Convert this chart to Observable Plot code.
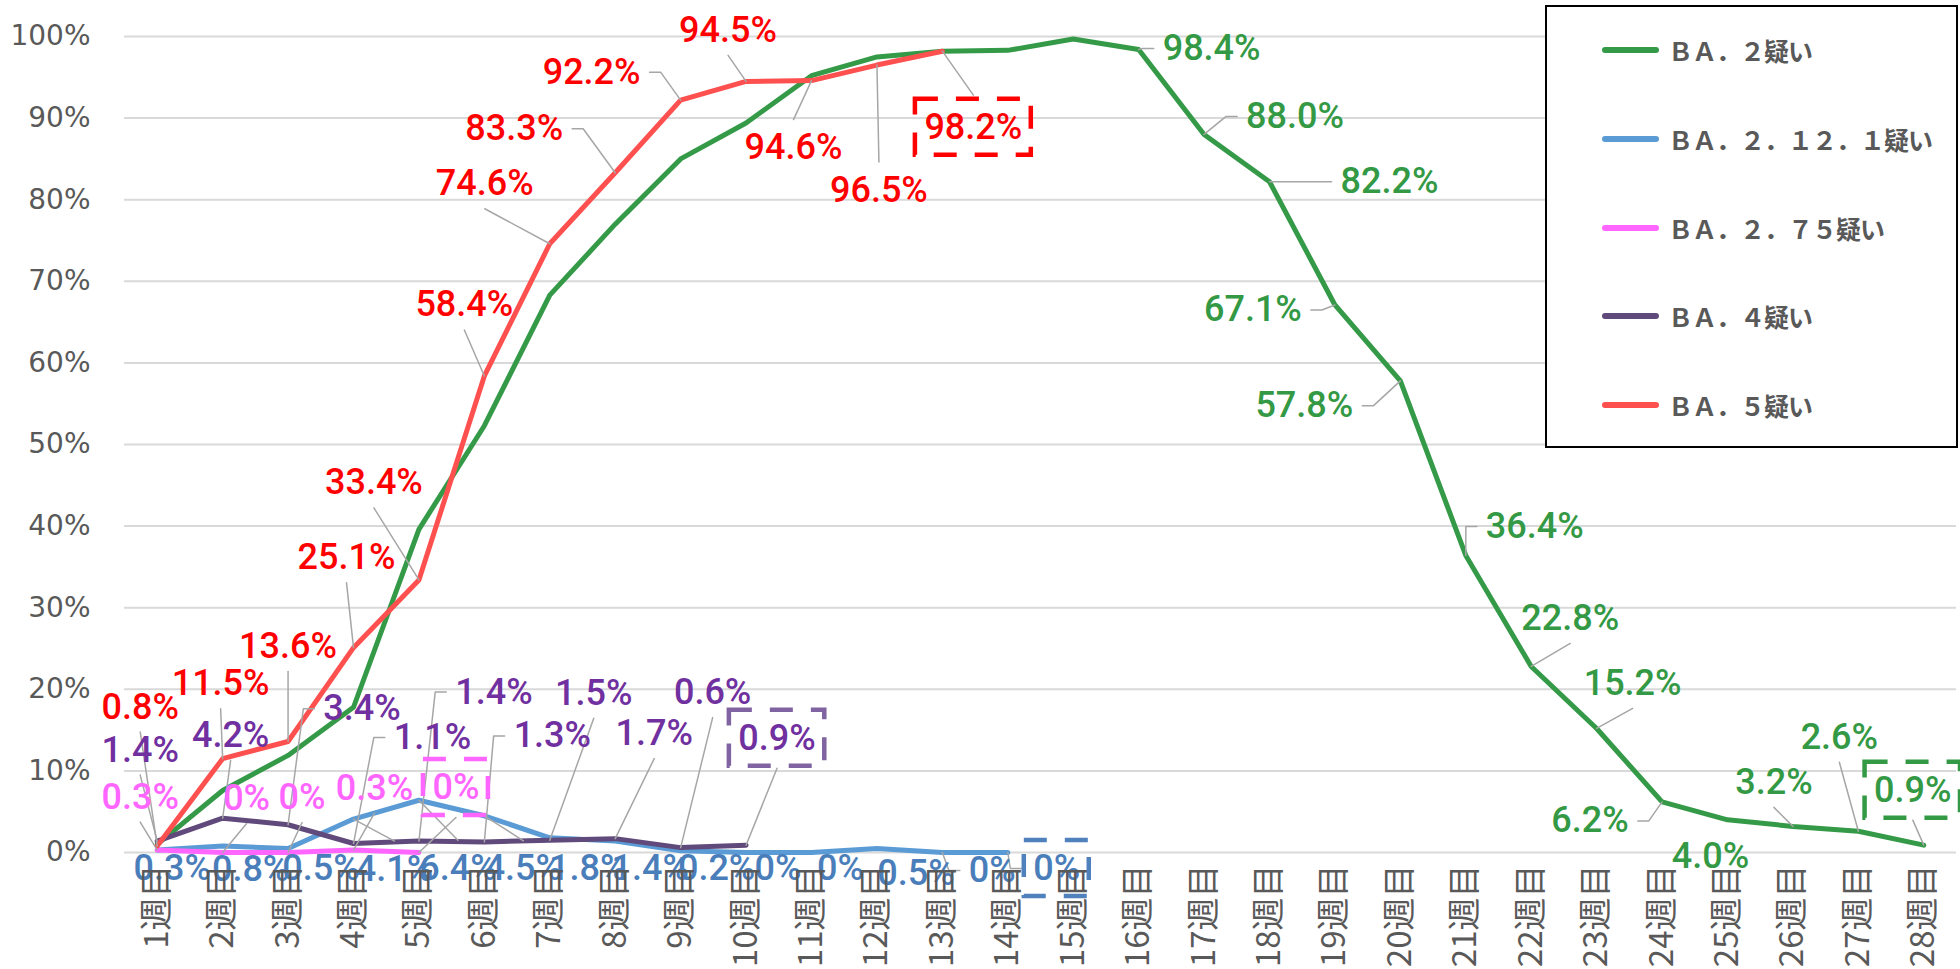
<!DOCTYPE html>
<html><head><meta charset="utf-8">
<script src="https://cdn.jsdelivr.net/npm/d3@7"></script>
<script src="https://cdn.jsdelivr.net/npm/@observablehq/plot@0.6"></script>
<style>
body{margin:0;background:#fff;}
#wrap{position:relative;width:1960px;height:969px;overflow:hidden;background:#fff;}
#legend{position:absolute;left:1545px;top:5px;width:409px;height:439px;border:2px solid #000;background:#fff;}
.item{position:absolute;left:0;height:0;}
.sw{position:absolute;left:55px;width:57px;height:6px;top:-3px;border-radius:3px;}
.lt{position:absolute;left:121px;top:-20px;line-height:40px;white-space:nowrap;font-family:"Noto Sans CJK JP",sans-serif;font-weight:700;font-size:25px;letter-spacing:-1px;color:#595959;}
</style></head><body><div id="wrap"></div>
<script>
// ---- data ----
const weeks = d3.range(1, 29);
const seriesNames = ["ＢＡ．２疑い","ＢＡ．２．１２．１疑い","ＢＡ．２．７５疑い","ＢＡ．４疑い","ＢＡ．５疑い"];
const ba2    = [1.0,7.6,11.9,17.8,39.6,52.3,68.3,77.0,85.0,89.4,95.2,97.5,98.2,98.3,99.7,98.4,88.0,82.2,67.1,57.8,36.4,22.8,15.2,6.2,4.0,3.2,2.6,0.9];
const ba2121 = [0.3,0.8,0.5,4.1,6.4,4.5,1.8,1.4,0.2,0,0,0.5,0,0];
const ba275  = [0.3,0,0,0.3,0];
const ba4    = [1.4,4.2,3.4,1.1,1.4,1.3,1.5,1.7,0.6,0.9];
const ba5    = [0.8,11.5,13.6,25.1,33.4,58.4,74.6,83.3,92.2,94.5,94.6,96.5,98.2];
const yTicks = d3.range(0, 101, 10);

// ---- label layout: [week, dx, dy, leader side, boxed] (pixel offsets from point) ----
const labelsBA2 = [[16,73,-1,"l"],[17,91,-18,"l"],[18,120,0,"l"],[19,-82,5,"r"],[20,-96,25,"r"],[21,69,-29,"l"],[22,39,-48,"b"],[23,36,-45,"b"],[24,-72,19,"r"],[25,-17,37,""],[26,-19,-44,"b"],[27,-19,-94,"b"],[28,-11,-55,"b",1]];
const labelsBA2121 = [[1,15,18,""],[2,28,23,""],[3,33,20,""],[4,41,50,"t"],[5,39,68,"t"],[6,39,53,"t"],[7,38,31,""],[8,35,27,""],[9,36,18,""],[10,32,16,""],[11,29,16,""],[12,39,25,""],[13,50,18,"l"],[14,49,16,"l",1]];
const labelsBA275 = [[1,-17,-53,"b"],[2,24,-54,"b"],[3,14,-55,"b"],[4,21,-62,"b"],[5,37,-65,"b",1]];
const labelsBA4 = [[1,-17,-91,"b"],[2,8,-83,"b"],[3,74,-116,"l"],[4,79,-106,"l"],[5,75,-149,"l"],[6,68,-106,"l"],[7,44,-147,"b"],[8,39,-105,"b"],[9,32,-155,"b"],[10,31,-107,"b",1]];
const labelsBA5 = [[1,-17,-139,"b"],[2,-2,-75,"b"],[3,0,-95,"b"],[4,-7,-90,"b"],[5,-45,-97,"b"],[6,-20,-71,"b"],[7,-65,-60,"b"],[8,-101,-44,"r"],[9,-89,-28,"r"],[10,-18,-51,"b"],[11,-18,67,"t"],[12,2,125,"t"],[13,31,76,"t",1]];

// ---- styles ----
const series = [
  {name: seriesNames[0], values: ba2,    line: "#359a48", text: "#339944", box: "#339944", labels: labelsBA2},
  {name: seriesNames[1], values: ba2121, line: "#5b9bd5", text: "#4a7ebb", box: "#4f81bd", labels: labelsBA2121},
  {name: seriesNames[2], values: ba275,  line: "#ff66ff", text: "#ff66ff", box: "#ff66ff", labels: labelsBA275},
  {name: seriesNames[3], values: ba4,    line: "#604a7b", text: "#7030a0", box: "#8064a2", labels: labelsBA4},
  {name: seriesNames[4], values: ba5,    line: "#ff5050", text: "#ff0000", box: "#ff0000", labels: labelsBA5}
];

const W = 1960, H = 969;
const mL = 124, mR = 4, mT = 36, mB = 117;
const LS = 36; // label font size
const xOpts = {type: "linear", domain: [0.5, 28.5], range: [mL, W - mR]};
const yOpts = {type: "linear", domain: [0, 100], range: [H - mB, mT]};
const xs = Plot.scale({x: xOpts});
const ys = Plot.scale({y: yOpts});

const cv = document.createElement("canvas").getContext("2d");
cv.font = `500 ${LS}px Roboto`;
const fmt = v => v === 0 ? "0%" : v.toFixed(1) + "%";

const marks = [Plot.gridY(yTicks, {stroke: "#d9d9d9", strokeOpacity: 1, strokeWidth: 2})];
for (const s of series) {
  const d = s.values.map((v, i) => ({week: weeks[i], value: v}));
  marks.push(Plot.line(d, {x: "week", y: "value", stroke: s.line, strokeWidth: 5, strokeLinejoin: "round", strokeLinecap: "round"}));
}
const textMarks = [], boxMarks = [], leaderMarks = [];
for (const s of series) {
  const texts = [], boxes = [], leaders = [];
  s.labels.forEach(([w, dx, dy, side, boxed], k) => {
    const v = s.values[w - 1];
    const t = fmt(v);
    const px = xs.apply(w), py = ys.apply(v);
    const cx = px + dx, cy = py + dy;
    const tw = cv.measureText(t).width;
    texts.push({x: xs.invert(cx), y: ys.invert(cy), t});
    const bh = 28, pad = 9;
    if (boxed) boxes.push({x1: xs.invert(cx - tw/2 - pad), x2: xs.invert(cx + tw/2 + pad), y1: ys.invert(cy + bh), y2: ys.invert(cy - bh)});
    let pts = null;
    if (side === "b") pts = [[px, py], [cx, cy + (boxed ? 30 : 25)]];
    else if (side === "t") pts = [[px, py], [cx, cy - (boxed ? 32 : 28)]];
    else if (side === "l") { const e = cx - tw/2 - (boxed ? 12 : 9); pts = [[px, py], [e - 11, cy], [e, cy]]; }
    else if (side === "r") { const e = cx + tw/2 + (boxed ? 12 : 9); pts = [[px, py], [e + 11, cy], [e, cy]]; }
    if (pts) pts.forEach(([a, b]) => leaders.push({id: k, x: xs.invert(a), y: ys.invert(b)}));
  });
  leaderMarks.push(Plot.line(leaders, {x: "x", y: "y", z: "id", stroke: "#a6a6a6", strokeWidth: 1.5}));
  boxMarks.push(Plot.rect(boxes, {x1: "x1", x2: "x2", y1: "y1", y2: "y2", fill: "none", stroke: s.box, strokeWidth: 4.5, strokeDasharray: "23,18"}));
  textMarks.push(Plot.text(texts, {x: "x", y: "y", text: "t", fill: s.text, fontSize: LS, fontFamily: "Roboto", fontWeight: 500, textAnchor: "middle", lineAnchor: "middle"}));
}
marks.push(...leaderMarks, ...boxMarks, ...textMarks);
marks.push(Plot.axisY(yTicks, {tickFormat: d => d + "%", tickSize: 0, tickPadding: 34, fontSize: 28, fontFamily: "DejaVu Sans", fill: "#595959", label: null}));
marks.push(Plot.axisX(weeks, {tickFormat: d => d + "週目", tickRotate: -90, tickSize: 0, tickPadding: 12, fontSize: 33, fontFamily: "Noto Sans CJK JP", fill: "#595959", label: null}));

const chart = Plot.plot({
  width: W, height: H,
  marginLeft: mL, marginRight: mR, marginTop: mT, marginBottom: mB,
  x: {...xOpts, label: null},
  y: {...yOpts, label: null},
  style: {background: "white", overflow: "visible"},
  marks
});
const wrap = document.getElementById("wrap");
wrap.appendChild(chart);

// legend
const lg = document.createElement("div");
lg.id = "legend";
const itemY = [43, 132, 221, 309, 398];
series.forEach((s, i) => {
  const it = document.createElement("div");
  it.className = "item";
  it.style.top = itemY[i] + "px";
  it.innerHTML = `<div class="sw" style="background:${s.line}"></div><div class="lt">${s.name}</div>`;
  lg.appendChild(it);
});
wrap.appendChild(lg);
</script>
</body></html>
